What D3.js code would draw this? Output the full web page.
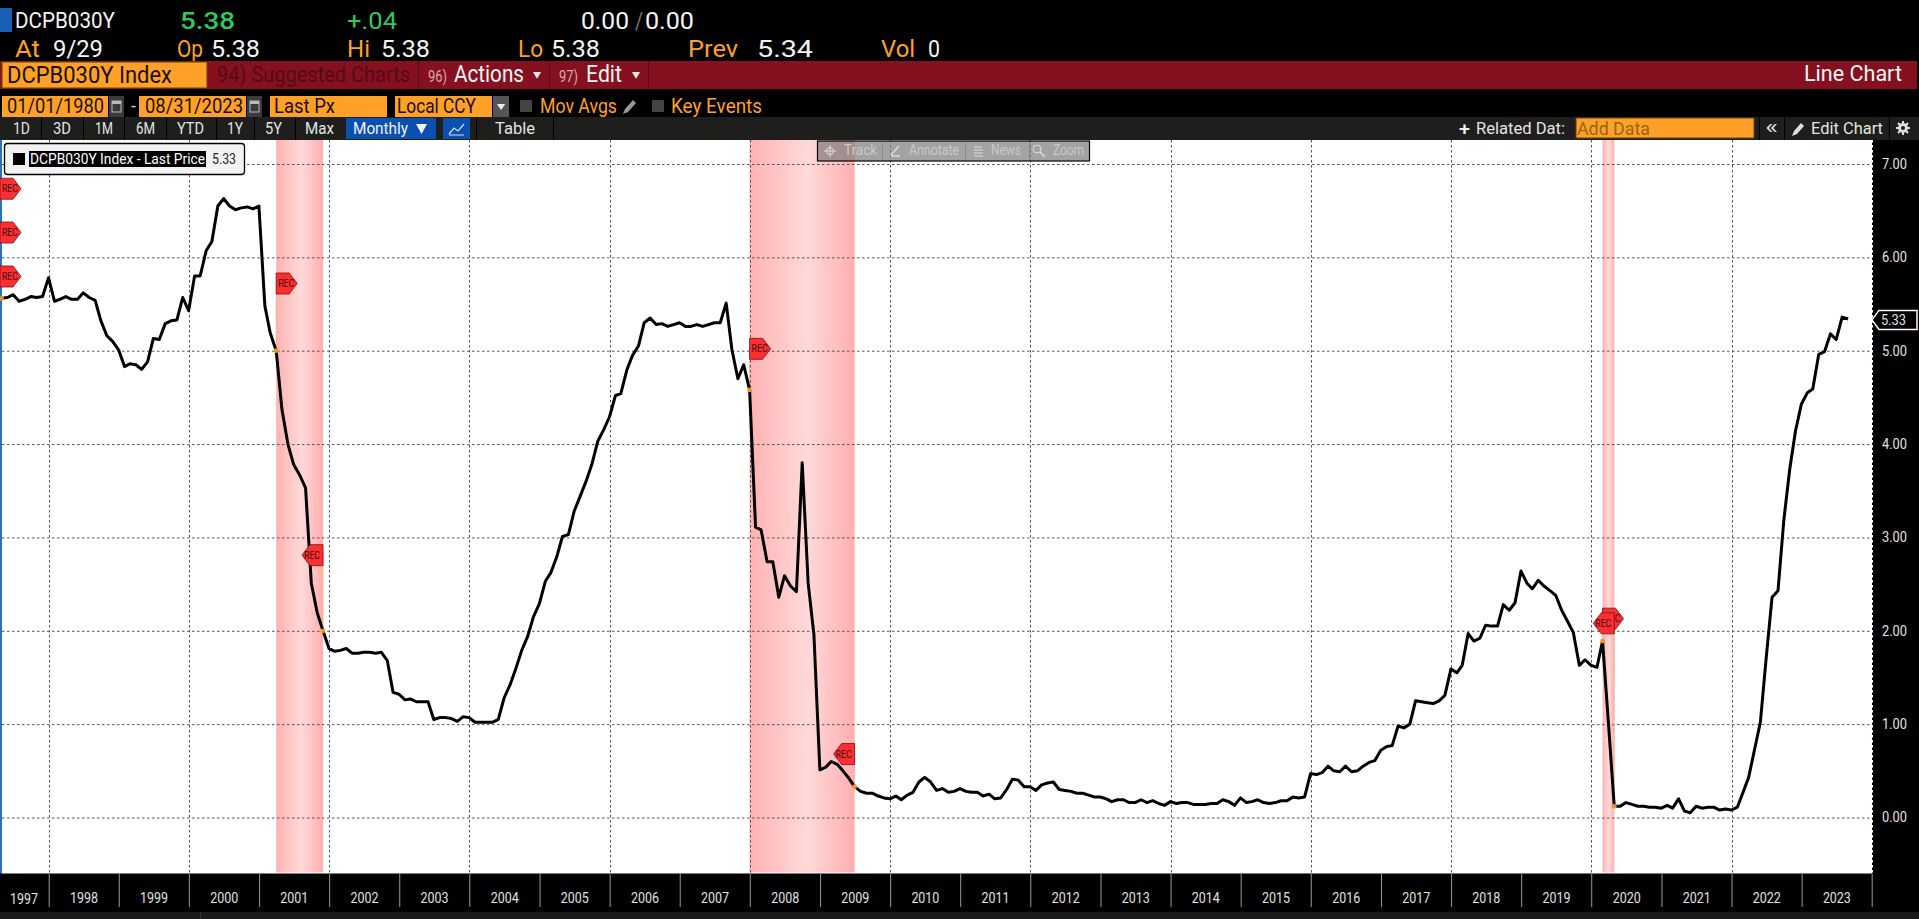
<!DOCTYPE html>
<html><head><meta charset="utf-8">
<style>html,body{margin:0;padding:0;background:#000;overflow:hidden}svg{display:block}text{font-family:Roboto,"Liberation Sans",sans-serif}</style>
<script src="https://cdn.jsdelivr.net/npm/d3@7"></script>
</head><body><svg id="c" width="1919" height="919"></svg>
<script>
// ---------- data (month-end last price, Apr 1997 .. Aug 2023) ----------
const firstMonth = [1997, 3];
const lastPrice = [
/*1997*/ 5.56,5.57,5.60,5.53,5.55,5.58,5.57,5.58,5.78,
/*1998*/ 5.53,5.55,5.58,5.55,5.55,5.62,5.57,5.54,5.32,5.16,5.10,5.01,
/*1999*/ 4.83,4.86,4.85,4.80,4.88,5.13,5.12,5.29,5.32,5.33,5.57,5.43,
/*2000*/ 5.80,5.80,6.07,6.17,6.55,6.63,6.55,6.51,6.53,6.54,6.52,6.55,
/*2001*/ 5.48,5.19,5.00,4.37,4.00,3.78,3.67,3.53,2.51,2.19,2.00,1.81,
/*2002*/ 1.78,1.79,1.81,1.76,1.76,1.77,1.77,1.76,1.77,1.68,1.34,1.32,
/*2003*/ 1.26,1.27,1.24,1.24,1.24,1.05,1.07,1.07,1.06,1.03,1.08,1.07,
/*2004*/ 1.02,1.02,1.02,1.02,1.05,1.28,1.42,1.60,1.79,1.94,2.15,2.29,
/*2005*/ 2.53,2.62,2.79,3.01,3.03,3.28,3.44,3.60,3.78,4.03,4.15,4.29,
/*2006*/ 4.52,4.54,4.79,4.95,5.05,5.30,5.35,5.28,5.29,5.26,5.28,5.30,
/*2007*/ 5.26,5.26,5.28,5.26,5.28,5.30,5.30,5.51,5.01,4.70,4.85,4.58,
/*2008*/ 3.11,3.08,2.74,2.74,2.36,2.59,2.48,2.42,3.80,2.51,1.96,0.51,
/*2009*/ 0.54,0.60,0.57,0.50,0.42,0.33,0.28,0.26,0.26,0.23,0.21,0.20,
/*2010*/ 0.23,0.19,0.24,0.27,0.38,0.43,0.38,0.29,0.31,0.27,0.28,0.31,
/*2011*/ 0.28,0.27,0.27,0.23,0.25,0.20,0.21,0.30,0.41,0.40,0.33,0.33,
/*2012*/ 0.29,0.35,0.37,0.38,0.30,0.29,0.28,0.26,0.26,0.24,0.22,0.22,
/*2013*/ 0.20,0.17,0.19,0.19,0.16,0.16,0.19,0.16,0.18,0.15,0.13,0.17,
/*2014*/ 0.15,0.16,0.16,0.14,0.14,0.14,0.15,0.15,0.19,0.17,0.13,0.21,
/*2015*/ 0.16,0.17,0.19,0.16,0.15,0.16,0.18,0.18,0.22,0.21,0.22,0.47,
/*2016*/ 0.46,0.48,0.55,0.50,0.49,0.55,0.49,0.50,0.55,0.59,0.61,0.72,
/*2017*/ 0.76,0.77,0.98,0.96,1.00,1.25,1.24,1.23,1.22,1.25,1.31,1.59,
/*2018*/ 1.55,1.63,1.97,1.89,1.92,2.06,2.05,2.05,2.28,2.22,2.30,2.64,
/*2019*/ 2.51,2.45,2.54,2.48,2.43,2.38,2.22,2.10,1.98,1.63,1.69,1.63,
/*2020*/ 1.61,1.89,1.00,0.12,0.12,0.16,0.14,0.12,0.12,0.11,0.11,0.10,
/*2021*/ 0.13,0.10,0.20,0.07,0.05,0.12,0.10,0.11,0.11,0.08,0.09,0.08,
/*2022*/ 0.11,0.26,0.43,0.72,1.02,1.70,2.36,2.43,3.18,3.73,4.14,4.43,
/*2023*/ 4.55,4.59,4.96,4.99,5.18,5.12,5.36,5.34
];
const yTicks = [0,1,2,3,4,5,6,7];
const lastLabel = "5.33";
const yearsTicked = d3.range(1998, 2025);
const yearsLabeled = d3.range(1998, 2024);
const gridYears = d3.range(1998, 2025, 2);
// recessions: start / end as [year, month index]
const recessions = [[[2001,2],[2001,10]],[[2007,11],[2009,5]],[[2020,1],[2020,3]]];
// REC flags: month-end anchor, value level, side
const recFlags = [
 [[1997,3],6.735,"r"],[[1997,3],6.266,"r"],[[1997,3],5.795,"r"],
 [[2001,2],5.72,"r"],[[2001,10],2.81,"l"],
 [[2007,11],5.02,"r"],[[2009,5],0.68,"l"],
 [[2020,1],2.13,"r"],[[2020,3],2.08,"l"]
];
const markerDots = [[1997,3],[2001,2],[2001,10],[2007,11],[2009,5],[2020,1],[2020,3]];

// ---------- scales ----------
const W=1919,H=919, L=2,R=1872,T=140,B=873.5;
const monthEnd = ([y,m]) => new Date(Date.UTC(y,m+1,0));
const series = lastPrice.map((v,i)=>({d:monthEnd([firstMonth[0],firstMonth[1]+i]),v}));
const x = d3.scaleUtc().domain([new Date(Date.UTC(1998,0,1)),new Date(Date.UTC(2024,0,1))]).range([48.7,1871.7]);
const y = d3.scaleLinear().domain([0,7]).range([817.5,164]);
const valueAt = ([yy,m]) => series.find(s=>+s.d===+monthEnd([yy,m])).v;

const svg = d3.select("#c");
const rect=(g,x0,y0,w,h,f,s)=>g.append("rect").attr("x",x0).attr("y",y0).attr("width",w).attr("height",h).attr("fill",f).attr("stroke",s||"none");
const label=(g,t,x0,x1,b,size,col,weight)=>g.append("text").text(t).attr("x",x0).attr("y",b).attr("font-size",size).attr("fill",col).attr("font-weight",weight||400)
  .attr("textLength",x1-x0).attr("lengthAdjust","spacingAndGlyphs");

rect(svg,0,0,W,H,"#000");

// ---------- header ----------
const ORG="#ffa028", GRN="#33c85c", WHT="#f4f4f4", DRK="#1a1000";
const hdr=svg.append("g");
rect(hdr,0,8,12,24,"#1b5fb5");
[["DCPB030Y",15,115,28,22,WHT],["5.38",180,235,29,24,GRN,500],["+.04",347,397,29,24,GRN],
 ["0.00",581,629,29,24,WHT],["/",635,643,29,24,"#777"],["0.00",645,694,29,24,WHT],
 ["At",15,40,57,24,ORG],["9/29",53,103,57,24,WHT],["Op",177,203,57,24,ORG],["5.38",211,260,57,24,WHT],
 ["Hi",347,370,57,24,ORG],["5.38",381,430,57,24,WHT],["Lo",518,543,57,24,ORG],["5.38",551,600,57,24,WHT],
 ["Prev",688,738,57,24,ORG],["5.34",757,813,57,24,WHT],["Vol",881,915,57,24,ORG],["0",928,940,57,24,WHT]
].forEach(a=>label(hdr,...a));

// red band
rect(hdr,0,61,1917,28,"#85101f");
rect(hdr,2,62,205,26,ORG,"#6b4200");
label(hdr,"DCPB030Y Index",7,172,83,24,DRK);
label(hdr,"94) Suggested Charts",217,410,82,22,"#560a17");
[418,549,648].forEach(v=>rect(hdr,v,61,1,28,"#5c0a16"));
label(hdr,"96)",428,447,82,17,"#d8a8ae");
label(hdr,"Actions",454,524,82,23,WHT);
label(hdr,"▾",533,541,79,14,"#e8e8e8");
label(hdr,"97)",559,578,82,17,"#d8a8ae");
label(hdr,"Edit",586,622,82,23,WHT);
label(hdr,"▾",632,640,79,14,"#e8e8e8");
label(hdr,"Line Chart",1804,1902,81,22,WHT);

// date row
[[2,106,"01/01/1980",7,104],[139,107,"08/31/2023",145,243],[270,117,"Last Px",274,335],[395,97,"Local CCY",397,476]].forEach(([a,w,t,x0,x1])=>{
  rect(hdr,a,96,w,21,ORG); label(hdr,t,x0,x1,113,20,DRK);
});
[109,247].forEach(v=>{rect(hdr,v,96,15,21,"#3a3a3a"); rect(hdr,v+3,101,9,11,"none","#bbb");rect(hdr,v+3,101,9,3,"#bbb");});
label(hdr,"-",131,136,112,18,"#cfcfcf");
rect(hdr,493,96,16,21,"#555"); label(hdr,"▾",497,505,110,12,"#eee");
rect(hdr,520,100,12,12,"#444"); label(hdr,"Mov Avgs",540,617,113,20,ORG);
hdr.append("path").attr("d","M623,114l2,-5l8,-9l3,3l-8,9z").attr("fill","#999");
rect(hdr,652,100,12,12,"#444"); label(hdr,"Key Events",671,762,113,20,ORG);

// button row
rect(hdr,0,117,W,23,"#1e1e1c");
[["1D",13,30],["3D",53,71],["1M",95,113],["6M",136,155],["YTD",177,204],["1Y",227,243],["5Y",265,282],["Max",305,334]]
 .forEach(([t,a,b])=>label(hdr,t,a,b,134,16,"#e4e4e4"));
[41,83,124,166,216,254,295].forEach(v=>rect(hdr,v,117,1,23,"#000"));
rect(hdr,346,118,90,21,"#0a50b0"); label(hdr,"Monthly",353,408,134,16,WHT); 
hdr.append("path").attr("d","M416,124h11l-5.500,10z").attr("fill",WHT);
rect(hdr,443,118,27,21,"#0a50b0");
hdr.append("path").attr("d","M449,134l5,-6l4,3l6,-7M449,135h15").attr("fill","none").attr("stroke","#cfe0ff").attr("stroke-width",1.2);
rect(hdr,476,117,1,23,"#000"); rect(hdr,553,117,1,23,"#000");
label(hdr,"Table",495,535,134,16,"#e4e4e4");
label(hdr,"+",1459,1470,135,18,WHT,500);
label(hdr,"Related Dat:",1476,1565,134,16,"#e4e4e4");
rect(hdr,1576,118,178,20,ORG,"#6b4200");
label(hdr,"Add Data",1577,1650,135,18,"#9a6512");
label(hdr,"«",1765,1778,134,20,"#ddd");
rect(hdr,1759,117,1,23,"#000"); rect(hdr,1784,117,1,23,"#000"); rect(hdr,1889,117,1,23,"#000");
hdr.append("path").attr("d","M1792,136l2,-5l7,-8l3,3l-7,8z").attr("fill","#ddd");
label(hdr,"Edit Chart",1811,1883,134,16,"#e4e4e4");
hdr.append("circle").attr("cx",1903).attr("cy",128).attr("r",3.5).attr("fill","none").attr("stroke","#ddd").attr("stroke-width",3);
hdr.append("path").attr("d","M1903,121v14M1896,128h14M1898,123l10,10M1908,123l-10,10").attr("stroke","#ddd").attr("stroke-width",2);
hdr.append("circle").attr("cx",1903).attr("cy",128).attr("r",2).attr("fill","#1e1e1c");

// ---------- plot ----------
rect(svg,L,T,R-L,B-T,"#fff");
rect(svg,0,T,2,B-T,"#2a72c0");

const defs=svg.append("defs");
const gr=defs.append("linearGradient").attr("id","rec");
[[0,"#ffb2b2"],[.55,"#ffd9d9"],[1,"#ffaeae"]].forEach(([o,c])=>gr.append("stop").attr("offset",o).attr("stop-color",c));
defs.append("clipPath").attr("id","clip").append("rect").attr("x",L).attr("y",T).attr("width",R-L).attr("height",B-T);

const plot=svg.append("g");
plot.selectAll("rect.rec").data(recessions).join("rect").attr("class","rec")
  .attr("x",d=>x(monthEnd(d[0]))).attr("width",d=>x(monthEnd(d[1]))-x(monthEnd(d[0])))
  .attr("y",T).attr("height",872.5-T).attr("fill","url(#rec)");

const GRID="#555";
const da="2.5,2.5";
plot.selectAll("line.gy").data(yTicks).join("line").attr("class","gy")
  .attr("x1",L).attr("x2",R).attr("y1",d=>y(d)+.5).attr("y2",d=>y(d)+.5)
  .attr("stroke",GRID).attr("stroke-dasharray",da);
plot.selectAll("line.gx").data(gridYears).join("line").attr("class","gx")
  .attr("x1",d=>Math.round(x(new Date(Date.UTC(d,0,1))))+.5).attr("x2",d=>Math.round(x(new Date(Date.UTC(d,0,1))))+.5)
  .attr("y1",T).attr("y2",B).attr("stroke",GRID).attr("stroke-dasharray",da);

// stems from flags to the line
plot.selectAll("line.st").data(recFlags.slice(3)).join("line").attr("class","st")
  .attr("x1",d=>x(monthEnd(d[0]))).attr("x2",d=>x(monthEnd(d[0])))
  .attr("y1",d=>y(d[1])).attr("y2",d=>y(valueAt(d[0])))
  .attr("stroke","#f0a860").attr("stroke-width",1).attr("stroke-dasharray","1.5,1");

// line
const line=d3.line().x(d=>x(d.d)).y(d=>y(d.v));
plot.append("path").datum(series).attr("d",line).attr("fill","none").attr("stroke","#000")
  .attr("stroke-width",3).attr("stroke-linejoin","round").attr("clip-path","url(#clip)");
plot.selectAll("circle.dot").data(markerDots).join("circle").attr("class","dot")
  .attr("cx",d=>x(monthEnd(d))).attr("cy",d=>y(valueAt(d))).attr("r",2.4).attr("fill","#e8962a");

// REC flags
const flag=plot.selectAll("g.flag").data(recFlags).join("g").attr("class","flag")
  .attr("transform",d=>`translate(${d[0][0]===1997?0:x(monthEnd(d[0]))},${y(d[1])})`);
flag.append("path").attr("d",d=>d[2]==="r"?"M0,-10.500H13L21,0L13,10.500H0Z":"M0,-10.500H-13L-21,0L-13,10.500H0Z")
  .attr("fill","#fb2e32").attr("stroke","#7a1015").attr("stroke-width",.8);
flag.append("text").text("REC").attr("x",d=>d[2]==="r"?2:-19).attr("y",3.5).attr("font-size",10.5).attr("fill","#4a0a0c")
  .attr("textLength",16).attr("lengthAdjust","spacingAndGlyphs");

// ---------- axes ----------
const GR="#e2e2e2";
const xAxisTicks=svg.append("g").attr("transform",`translate(0,${B+.5})`)
  .call(d3.axisBottom(x).tickValues(yearsTicked.map(v=>new Date(Date.UTC(v,0,1)))).tickSize(33).tickFormat(""));
xAxisTicks.select(".domain").remove();
xAxisTicks.selectAll("line").attr("stroke","#9a9a9a");
const xAxisLabels=svg.append("g").attr("transform",`translate(0,${B})`)
  .call(d3.axisBottom(x).tickValues(yearsLabeled.map(v=>new Date(Date.UTC(v,6,1)))).tickSize(0).tickPadding(19).tickFormat(d3.utcFormat("%Y")));
xAxisLabels.select(".domain").remove();
xAxisLabels.selectAll("text").attr("fill",GR).attr("font-size",15).attr("font-family","Roboto").attr("textLength",28).attr("lengthAdjust","spacingAndGlyphs");
label(svg,"1997",10,38,904,15,GR);

const yAxis=svg.append("g").attr("transform",`translate(${R},0)`)
  .call(d3.axisRight(y).tickValues(yTicks).tickSize(0).tickPadding(10).tickFormat(d3.format(".2f")));
yAxis.select(".domain").remove();
yAxis.selectAll("text").attr("fill",GR).attr("font-size",14).attr("font-family","Roboto").attr("textLength",25).attr("lengthAdjust","spacingAndGlyphs");

// right edge dashed white
svg.append("line").attr("x1",R+.5).attr("x2",R+.5).attr("y1",T).attr("y2",B).attr("stroke","#fff").attr("stroke-dasharray",da);

// current value tag
const tagY=y(+lastLabel);
svg.append("path").attr("d",`M1872,${tagY}L1879,${tagY-9.500}H1917V${tagY+9.500}H1879Z`).attr("fill","#000").attr("stroke","#fff").attr("stroke-width",1.5);
label(svg,lastLabel,1881,1906,tagY+5,14,GR);

// bottom strip
rect(svg,0,912,W,7,"#1a1a18"); rect(svg,200,912,1,7,"#333");

// ---------- legend ----------
const lg=svg.append("g");
lg.append("rect").attr("x",4.500).attr("y",143.500).attr("width",240).attr("height",31).attr("rx",3).attr("fill","#f2f2f2").attr("stroke","#000").attr("stroke-width",1.3);
rect(lg,13,153,12,12,"#000");
rect(lg,29,151,177,16,"#000");
label(lg,"DCPB030Y Index - Last Price",30,205,164,14.5,"#fff");
label(lg,lastLabel,212,236,164,14.5,"#222");

// ---------- chart toolbar ----------
const tb=svg.append("g");
tb.append("rect").attr("x",817.500).attr("y",141).attr("width",272).attr("height",20).attr("fill","#808080").attr("fill-opacity",.72).attr("stroke","#000").attr("stroke-width",1.2);
[["Track",844,877],["Annotate",909,959],["News",991,1021],["Zoom",1053,1084]].forEach(([t,a,b])=>label(tb,t,a,b,155,14,"#c8c8c8"));
[882,965,1029].forEach(v=>rect(tb,v,142,1,18,"#8a8a8a"));
tb.append("path").attr("d","M830,145v12M824,151h12").attr("stroke","#ddd").attr("fill","none");
tb.append("circle").attr("cx",830).attr("cy",151).attr("r",3.500).attr("fill","none").attr("stroke","#ddd");
tb.append("path").attr("d","M891,155l8,-9M891,156h9").attr("stroke","#ddd").attr("fill","none").attr("stroke-width",1.4);
tb.append("path").attr("d","M974,147h8M974,150h9M974,153h9M974,156h9").attr("stroke","#ddd").attr("fill","none");
tb.append("circle").attr("cx",1037).attr("cy",149).attr("r",4).attr("fill","none").attr("stroke","#ddd");
tb.append("path").attr("d","M1040,152l5,5").attr("stroke","#ddd").attr("stroke-width",1.5);
</script></body></html>
